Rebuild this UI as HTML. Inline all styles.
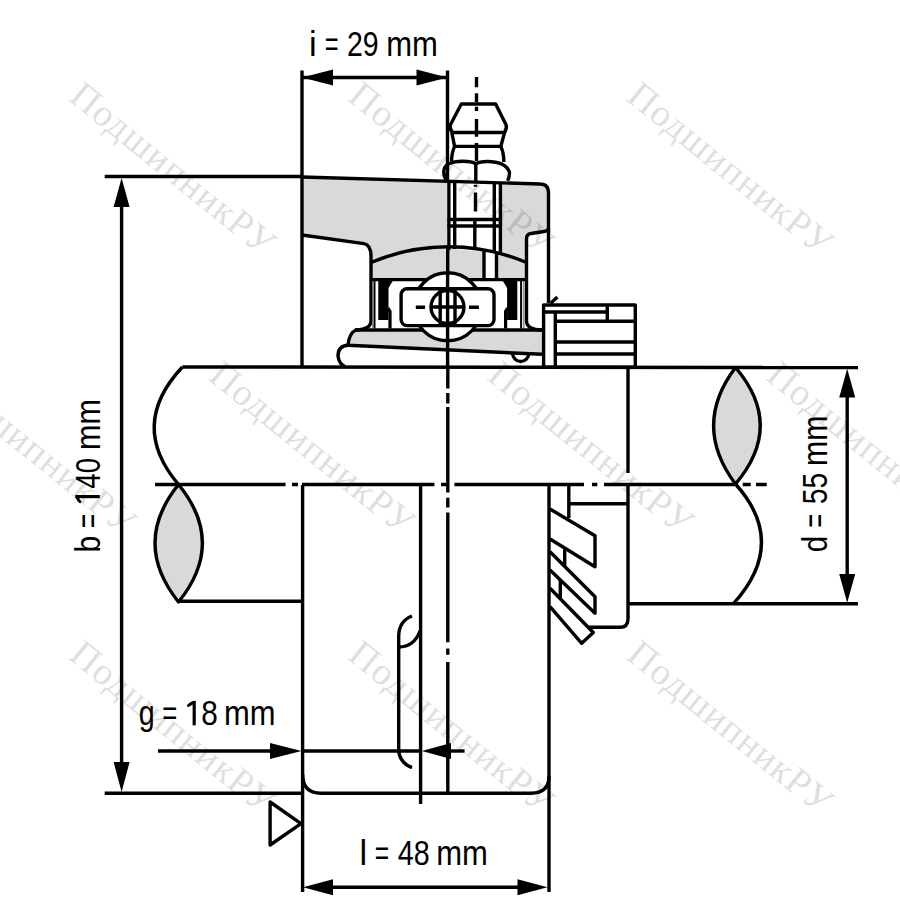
<!DOCTYPE html>
<html><head><meta charset="utf-8"><style>
html,body{margin:0;padding:0;background:#fff;width:900px;height:900px;overflow:hidden}
svg{display:block}
text{font-family:"Liberation Sans",sans-serif}
.wm text{font-family:"Liberation Serif",serif}
</style></head><body>
<svg width="900" height="900" viewBox="0 0 900 900">
<rect width="900" height="900" fill="#fff"/>
<!-- GRAY FILLS -->
<g fill="#d9d9d9" stroke="none">
  <path d="M302,177 L540,184 Q548.5,184 548.5,193 L548.5,228 Q548.5,231 544,231.5 L531,233.5 Q526.5,234 526.5,239 L526.5,279.6 L371,279.6 L371,256 Q371,245 364,243.6 L302,235 Z"/>
  <path d="M356,330 L542,330 L542,354.3 L348,345.3 Q349,333 356,330 Z"/>
  <path d="M735.5,367.5 Q691.7,425.5 735.5,484 Q785,425.5 735.5,367.5 Z"/>
  <path d="M178.5,484.5 Q131.5,543 178.5,602 Q226.3,543 178.5,484.5 Z"/>
</g>
<g fill="#fff" stroke="none">
  <path d="M449,181 L500.4,182.5 L500.4,253.5 L449,248.5 Z"/>
  <rect x="484" y="249" width="12.5" height="30"/>
</g>

<g fill="none" stroke="#000" stroke-width="3.4" stroke-linejoin="round">
  <!-- dimension i -->
  <line x1="302" y1="77.5" x2="447.5" y2="77.5"/>
  <line x1="302" y1="70.5" x2="302" y2="367"/>
  <line x1="447.5" y1="70.5" x2="447.5" y2="182"/>
  <line x1="448.9" y1="180" x2="448.9" y2="250" stroke-width="3.3"/>
  <line x1="447.7" y1="247" x2="447.7" y2="290"/>
  <!-- b extension top -->
  <line x1="104.7" y1="176.5" x2="302" y2="176.5"/>
  <!-- housing outline -->
  <path d="M302,177 L540,184 Q548.5,184 548.5,193 L548.5,303"/>
  <path d="M548.5,228 Q548.5,231 544,231.5 L531,233.5 Q526.5,234 526.5,239 L526.5,321 Q526.5,329.5 542,330"/>
  <path d="M302,235 L364,243.6 Q371,245 371,256 L371,321 Q371,329.5 355,330"/>
  <!-- outer ring arc & bottom -->
  <path d="M371,262.5 A200,200 0 0 1 526.5,262.5"/>
  <line x1="371" y1="279.6" x2="526.5" y2="279.6"/>
  <!-- shank -->
    <line x1="454.7" y1="181.5" x2="454.7" y2="249"/>
  <line x1="494.3" y1="182.5" x2="494.3" y2="253"/>
  <line x1="500.4" y1="182.5" x2="500.4" y2="253.5"/>
  <line x1="484" y1="249.5" x2="484" y2="279"/>
  <line x1="496.5" y1="252.5" x2="496.5" y2="279"/>
  <line x1="447.5" y1="219.5" x2="501" y2="219.5"/>
  <line x1="447.5" y1="226" x2="501" y2="226"/>
  <line x1="474.8" y1="218.5" x2="474.8" y2="249"/>
  <!-- nipple -->
  <path d="M452.4,132.5 Q449.5,129 450.3,125 L461.3,104 L495.6,104 L506.2,125 Q507,129 504.4,132.5 Z" fill="#fff"/>
  <path d="M451.8,132.5 L454.6,146.4 L500.8,146.4 L504.6,132.5"/>
  <path d="M454.6,146.4 Q451.5,153 451.6,162 M500.8,146.4 Q504,153 503.8,162"/>
  <path d="M447,180.5 Q443.5,177 443.8,171 Q444.5,161.5 462.9,161.3 Q472,161.3 475.8,163.8 Q480,161.3 487.8,161.5 Q506,162 509.4,172 Q509.8,177 507.5,180.8"/>
  <line x1="475.8" y1="163.8" x2="475.8" y2="181"/>
  <!-- inner ring -->
  <line x1="355" y1="330" x2="542" y2="330"/>
  <!-- lip -->
  <path d="M542,354.3 L348,345.3 Q349,333 356,330"/>
  <path d="M348,345.3 Q338,346 338,356 Q339,364 345,366.5"/>
  <path d="M512.7,353.5 A8,8 0 0 0 528.7,353.5"/>
  <!-- shaft -->
  <line x1="182.4" y1="367" x2="858" y2="367.5"/>
  <line x1="178.5" y1="601.2" x2="302" y2="601.2"/>
  <line x1="628" y1="603.8" x2="858" y2="603.8"/>
  <path d="M182.4,367 Q128,425 178.5,484.5"/>
  <path d="M178.5,484.5 Q131.5,543 178.5,602 Q226.3,543 178.5,484.5"/>
  <path d="M735.5,367.5 Q691.7,425.5 735.5,484 Q785,425.5 735.5,367.5"/>
  <path d="M735.5,484 Q788.5,543 733.3,603.8"/>
  <!-- body -->
  <path d="M302.6,485 L302.6,892"/>
  <path d="M549,485 L549,892"/>
  <line x1="104.7" y1="793.2" x2="302" y2="793.2"/>
  <path d="M302.6,774 Q302.6,793.2 321,793.2 L531,793.2 Q549,793.2 549,776"/>
  <line x1="420.6" y1="485" x2="420.6" y2="804"/>
  <!-- bracket -->
  <path d="M412,616 Q399,621 398.7,636 L398.7,751 Q400,763 412,767.7"/>
  <path d="M398.7,647 Q414,647 420,631"/>
  <!-- collar upper -->
  <line x1="628" y1="367" x2="628" y2="473"/>
  <rect x="543.6" y="305" width="91.7" height="62.3"/>
  <line x1="555.3" y1="312" x2="555.3" y2="367"/>
  <line x1="543.6" y1="312" x2="607.3" y2="312"/>
  <line x1="607.3" y1="305" x2="607.3" y2="321.3"/>
  <line x1="555.3" y1="321.3" x2="635.3" y2="321.3"/>
  <line x1="555.3" y1="342" x2="635.3" y2="342"/>
  <line x1="555.3" y1="354" x2="635.3" y2="354"/>
  <line x1="550.7" y1="303.3" x2="557.3" y2="297"/>
  <!-- collar lower -->
  <line x1="568.8" y1="485" x2="568.8" y2="518"/>
  <line x1="568.8" y1="503.8" x2="628" y2="503.8"/>
  <path d="M628,485 L628,619 Q628,627.3 620,627.3 L589,627.3"/>
  <path d="M550,509 L595,535.8 L595,566.7 L550,539"/>
  <path d="M550,551.7 L595,596.7 L595,613.3 L550,570"/>
  <path d="M550,588.3 L593.3,632.5 L581.7,643.3 L550,606.7"/>
  <line x1="564.7" y1="548" x2="564.7" y2="566.4"/>
  <line x1="560.3" y1="580" x2="560.3" y2="598.8"/>
  <!-- b dim -->
  <line x1="121.6" y1="200" x2="121.6" y2="770"/>
  <!-- d dim -->
  <line x1="847.2" y1="390" x2="847.2" y2="580"/>
  <!-- l dim -->
  <line x1="320" y1="887.3" x2="530" y2="887.3"/>
  <!-- g dim -->
  <line x1="158" y1="751" x2="285" y2="751"/>
  <line x1="440" y1="751" x2="464.6" y2="751"/>
  <line x1="302" y1="751" x2="420.6" y2="751"/>
  <!-- triangle -->
  <path d="M270.1,802 L301,823.6 L270.1,845 Z"/>
</g>

<!-- seals -->
<g fill="#000" stroke="none">
  <path d="M378.3,280.5 L393,280.5 L388.5,288 L388.5,320 L378.3,320 Z"/>
  <path d="M517.3,280.5 L502.6,280.5 L507.1,288 L507.1,320 L517.3,320 Z"/>
</g>
<g fill="none" stroke="#000" stroke-width="2">
  <line x1="374.5" y1="280" x2="374.5" y2="328.5"/>
  <path d="M388,308 L390,311.5 L390,328.5" stroke-width="3.2"/>
  <line x1="372.8" y1="281" x2="372.8" y2="328" stroke="#777" stroke-width="1.2"/>
  <line x1="523.8" y1="281" x2="523.8" y2="328" stroke="#777" stroke-width="1.2"/>
  <line x1="521.1" y1="280" x2="521.1" y2="328.5"/>
  <path d="M507.6,308 L505.6,311.5 L505.6,328.5" stroke-width="3.2"/>
</g>

<!-- ball & cage -->
<g stroke="#000" stroke-width="3.4">
  <circle cx="447.6" cy="306.8" r="34" fill="#fff"/>
  <rect x="401.1" y="288.8" width="92.9" height="36.8" rx="6" fill="#fff"/>
  <circle cx="447.5" cy="307" r="16.5" fill="#fff"/>
  <path fill="none" d="M415.8,307.3 H425.1 M469,307.3 H478.9 M431,307 H464 M440.2,289 V325.6 M455,289 V325.6"/>
</g>

<!-- centre lines -->
<g fill="none" stroke="#000" stroke-width="3.4">
  <path d="M155,484.5 H285.6 M292,484.5 H298 M302,484.5 H434.4 M441,484.5 H446.7 M454.4,484.5 H584 M592,484.5 H597.3 M604,484.5 H736 M742.7,484.5 H750.7 M756,484.5 H766.7"/>
  <path d="M447.6,272 V367 M447.8,367 V388.4 M447.8,392.9 V403.6 M447.8,407.1 V492.4 M447.8,497.8 V507.6 M447.8,512.4 V642.2 M447.8,648.4 V654.7 M447.8,662 V793"/>
  <path d="M476.5,77 V87.2 M476.5,93.3 V102.2 M476.5,106.7 V111 M476.5,118.9 V136.7 M476.5,143 V161 M475.5,184.7 V186.8 M475.5,192.6 V211.4"/>
</g>

<!-- ARROWHEADS -->
<g fill="#000" stroke="none">
  <path d="M302,77.5 L333,69.5 L333,85.5 Z"/>
  <path d="M447.5,77.5 L416.5,69.5 L416.5,85.5 Z"/>
  <path d="M121.6,178 L113.6,207 L129.6,207 Z"/>
  <path d="M121.6,792 L113.6,762 L129.6,762 Z"/>
  <path d="M847.2,368.8 L839.2,397.5 L855.2,397.5 Z"/>
  <path d="M847.2,602.8 L839.2,574 L855.2,574 Z"/>
  <path d="M303,887.3 L333,879.3 L333,895.3 Z"/>
  <path d="M547.5,887.3 L517.5,879.3 L517.5,895.3 Z"/>
  <path d="M301.5,751 L270,743 L270,759 Z"/>
  <path d="M421.8,751 L451,743 L451,759 Z"/>
</g>

<g fill="#000">
<text transform="translate(309.02,56.0) scale(1.0000,1)" font-size="34.5">i</text>
<text transform="translate(324.64,56.0) scale(0.6859,1)" font-size="34.5">=</text>
<text transform="translate(346.98,56.0) scale(0.8253,1)" font-size="34.5">29</text>
<text transform="translate(386.15,56.0) scale(0.8994,1)" font-size="34.5">mm</text>
<text transform="translate(138.70,725.3) scale(0.8309,1)" font-size="34.5">g</text>
<text transform="translate(162.14,725.3) scale(0.7455,1)" font-size="34.5">=</text>
<path d="M192.60,700.90 H195.80 V725.30 H192.60 Z"/><path d="M193.80,702.50 Q190.80,703.50 188.40,705.50" fill="none" stroke="#000" stroke-width="2.9" stroke-linecap="round"/>
<text transform="translate(201.22,725.3) scale(0.8634,1)" font-size="34.5">8</text>
<text transform="translate(223.96,725.3) scale(0.8975,1)" font-size="34.5">mm</text>
<text transform="translate(359.57,865.3) scale(1.0000,1)" font-size="34.5">l</text>
<text transform="translate(374.79,865.3) scale(0.7157,1)" font-size="34.5">=</text>
<text transform="translate(397.84,865.3) scale(0.8313,1)" font-size="34.5">48</text>
<text transform="translate(436.15,865.3) scale(0.8994,1)" font-size="34.5">mm</text>
<text transform="translate(99.8,551.5) rotate(-90) translate(-0.95,0) scale(0.8715,1)" font-size="34.5">b</text>
<text transform="translate(99.8,551.5) rotate(-90) translate(23.29,0) scale(0.7157,1)" font-size="34.5">=</text>
<g transform="translate(99.8,551.5) rotate(-90)"><path d="M53.30,-24.40 H56.50 V0.00 H53.30 Z"/><path d="M54.50,-22.80 Q51.50,-21.80 49.90,-19.80" fill="none" stroke="#000" stroke-width="2.9" stroke-linecap="round"/></g>
<text transform="translate(99.8,551.5) rotate(-90) translate(62.86,0) scale(0.8006,1)" font-size="34.5">40</text>
<text transform="translate(99.8,551.5) rotate(-90) translate(101.48,0) scale(0.8881,1)" font-size="34.5">mm</text>
<text transform="translate(827.3,551.5) rotate(-90) translate(-0.84,0) scale(0.8567,1)" font-size="34.5">d</text>
<text transform="translate(827.3,551.5) rotate(-90) translate(23.63,0) scale(0.6918,1)" font-size="34.5">=</text>
<text transform="translate(827.3,551.5) rotate(-90) translate(47.27,0) scale(0.8189,1)" font-size="34.5">55</text>
<text transform="translate(827.3,551.5) rotate(-90) translate(85.50,0) scale(0.8786,1)" font-size="34.5">mm</text>
</g>
<g class="wm" fill="#000" fill-opacity="0.145" font-size="38" letter-spacing="1">
<text transform="translate(67.5,99.5) rotate(39)">ПодшипникРУ</text>
<text transform="translate(346.3,99.5) rotate(39)">ПодшипникРУ</text>
<text transform="translate(625.1,99.5) rotate(39)">ПодшипникРУ</text>
<text transform="translate(-71.9,378.8) rotate(39)">ПодшипникРУ</text>
<text transform="translate(206.9,378.8) rotate(39)">ПодшипникРУ</text>
<text transform="translate(485.7,378.8) rotate(39)">ПодшипникРУ</text>
<text transform="translate(764.5,378.8) rotate(39)">ПодшипникРУ</text>
<text transform="translate(67.5,658.0) rotate(39)">ПодшипникРУ</text>
<text transform="translate(346.3,658.0) rotate(39)">ПодшипникРУ</text>
<text transform="translate(625.1,658.0) rotate(39)">ПодшипникРУ</text>
</g>
</svg>
</body></html>
